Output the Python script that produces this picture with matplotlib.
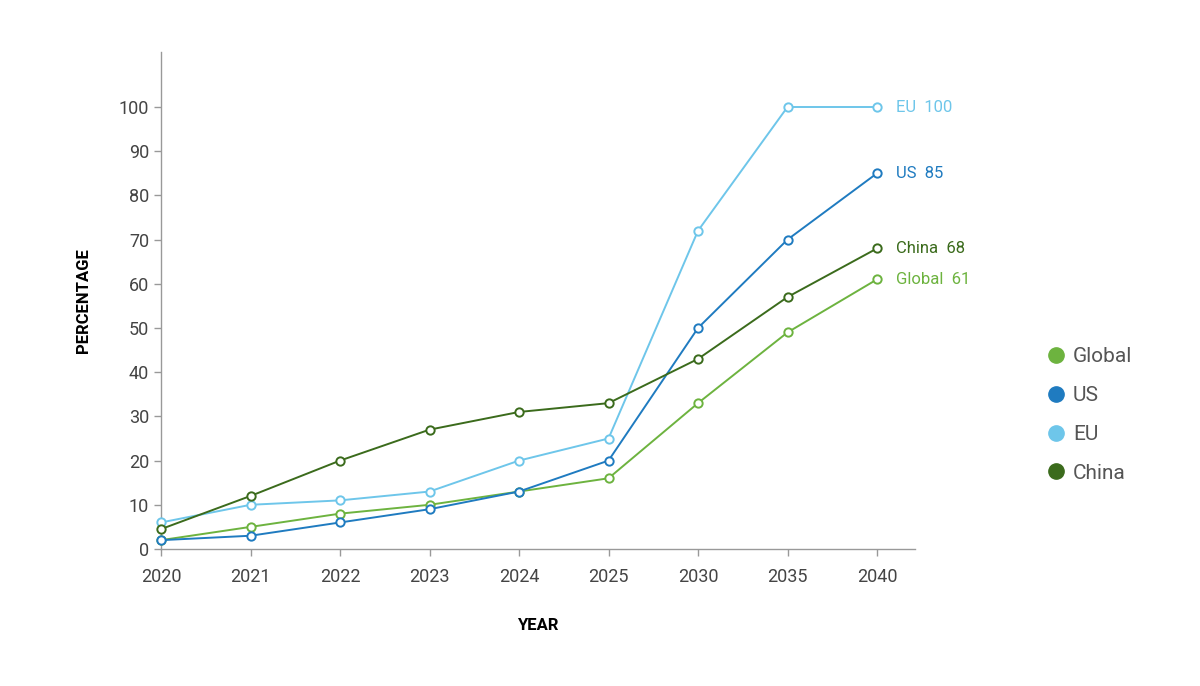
import matplotlib.pyplot as plt
from matplotlib.lines import Line2D

years = ["2020", "2021", "2022", "2023", "2024", "2025", "2030", "2035", "2040"]
global_vals = [2, 5, 8, 10, 13, 16, 33, 49, 61]
us_vals = [2, 3, 6, 9, 13, 20, 50, 70, 85]
eu_vals = [6, 10, 11, 13, 20, 25, 72, 100, 100]
china_vals = [4.5, 12, 20, 27, 31, 33, 43, 57, 68]

series_names = ["Global", "US", "EU", "China"]
series_vals = [global_vals, us_vals, eu_vals, china_vals]
colors = ["#6db33f", "#1f7bc0", "#6ec6ea", "#3b6b1c"]

plt.rcParams["font.family"] = ["Roboto", "DejaVu Sans"]

fig = plt.figure(figsize=(12, 6.86), dpi=100)
ax = fig.add_axes([161 / 1200, 1 - 549 / 686, (915 - 161) / 1200, (549 - 52) / 686])

x = list(range(len(years)))
for name, vals, c in zip(series_names, series_vals, colors):
    ax.plot(x, vals, color=c, lw=1.4, marker="o", ms=6,
            markerfacecolor="white", markeredgecolor=c, markeredgewidth=1.4,
            clip_on=False, zorder=3)

# end labels
for name, vals, c in zip(series_names, series_vals, colors):
    ax.annotate(f"{name}  {vals[-1]}", (x[-1], vals[-1]), xytext=(14, 0),
                textcoords="offset points", va="center", ha="left",
                color=c, fontsize=12)

ax.set_xlim(0, (915 - 161) / 89.5)
ax.set_ylim(0, (549 - 52) / 4.42)
ax.set_xticks(x)
ax.set_xticklabels(years)
ax.set_yticks(range(0, 101, 10))
ax.tick_params(axis="both", labelsize=13, labelcolor="#444444", color="#999999",
               length=5, width=1)
ax.tick_params(axis="x", pad=9)
for s in ["top", "right"]:
    ax.spines[s].set_visible(False)
for s in ["left", "bottom"]:
    ax.spines[s].set_color("#999999")
    ax.spines[s].set_linewidth(1)

ax.set_xlabel("YEAR", fontsize=12, fontweight="bold", labelpad=23)
ax.set_ylabel("PERCENTAGE", fontsize=12, fontweight="bold", labelpad=20)

handles = [Line2D([], [], marker="o", ls="none", color=c, ms=11) for c in colors]
fig.legend(handles, series_names, loc="center left",
           bbox_to_anchor=(1025 / 1200, 1 - 415 / 686), frameon=False,
           fontsize=15, labelcolor="#555555", handletextpad=0.2,
           labelspacing=0.95, handlelength=1.2)

fig.savefig("out.png", dpi=100)
